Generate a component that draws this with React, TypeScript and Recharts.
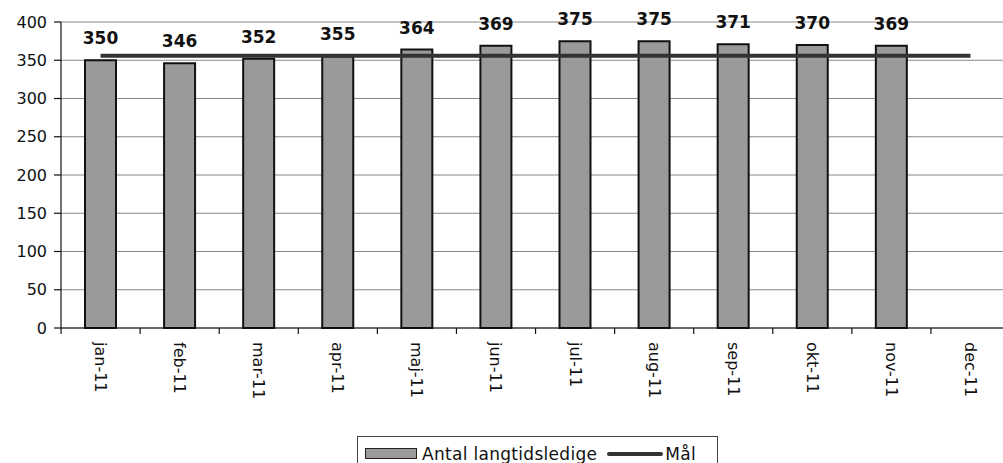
import React from "react"
import { CartesianGrid, ComposedChart, Bar, Line, XAxis, YAxis, LabelList, Legend } from "recharts"

const months = ["jan-11", "feb-11", "mar-11", "apr-11", "maj-11", "jun-11", "jul-11", "aug-11", "sep-11", "okt-11", "nov-11", "dec-11"]
const langtidsledige = [350, 346, 352, 355, 364, 369, 375, 375, 371, 370, 369, null]
const maal = [356, 356, 356, 356, 356, 356, 356, 356, 356, 356, 356, 356]
const yTicks = [0, 50, 100, 150, 200, 250, 300, 350, 400]

const data = months.map((m, i) => ({ name: m, antal: langtidsledige[i], maal: maal[i] }))

const font = "Verdana, 'DejaVu Sans', sans-serif"

const MonthTick = (props: any) => {
  const { x, y, payload } = props
  return (
    <g>
      <line x1={x - 39.5} y1={y - 8} x2={x - 39.5} y2={y - 2} stroke="#111" strokeWidth={1.2} />
      <text
        transform={`translate(${x},${y + 6}) rotate(90)`}
        textAnchor="start"
        dominantBaseline="central"
        fontSize={16}
        fontFamily={font}
        fill="#111"
      >
        {payload.value}
      </text>
    </g>
  )
}

const LegendBox = () => (
  <div
    style={{
      boxSizing: "border-box",
      width: 361,
      height: 40,
      border: "1.5px solid #444",
      display: "flex",
      alignItems: "flex-start",
      padding: "7px 6px 0 7px",
      fontFamily: font,
      fontSize: 17,
      lineHeight: "20px",
      letterSpacing: 0.3,
      color: "#111",
      background: "#fff",
      whiteSpace: "nowrap",
    }}
  >
    <span style={{ display: "inline-block", width: 50, height: 9, marginTop: 4, background: "#9a9a9a", border: "1.5px solid #222", marginRight: 5 }} />
    <span>Antal langtidsledige</span>
    <span style={{ display: "inline-block", width: 56, height: 4, marginTop: 8, background: "#333", borderRadius: 2, margin: "8px 2px 0 10px" }} />
    <span>Mål</span>
  </div>
)

export default function App() {
  return (
    <div style={{ position: "absolute", top: 0, left: 0, width: 1003, height: 463, overflow: "hidden", background: "#fff" }}>
      <ComposedChart
        width={1019}
        height={463}
        data={data}
        margin={{ top: 22, right: 9, left: 0, bottom: 0 }}
      >
        <CartesianGrid vertical={false} stroke="#888" strokeWidth={1} />
        <XAxis
          dataKey="name"
          height={135}
          interval={0}
          tickLine={false}
          axisLine={{ stroke: "#111", strokeWidth: 1.2 }}
          tick={<MonthTick />}
        />
        <YAxis
          domain={[0, 400]}
          ticks={yTicks}
          width={61}
          tickSize={7}
          tickMargin={7}
          axisLine={{ stroke: "#111", strokeWidth: 1.2 }}
          tickLine={{ stroke: "#111", strokeWidth: 1.2 }}
          tick={{ fontSize: 16, fontFamily: font, fill: "#111" }}
        />
        <Legend
          layout="horizontal"
          verticalAlign="middle"
          content={() => <LegendBox />}
          wrapperStyle={{ left: 357, top: 436, width: 361 }}
        />
        <Bar dataKey="antal" name="Antal langtidsledige" barSize={31} fill="#9a9a9a" stroke="#111" strokeWidth={2} isAnimationActive={false}>
          <LabelList dataKey="antal" position="top" offset={16} fontSize={17} fontWeight="bold" fontFamily={font} fill="#111" />
        </Bar>
        <Line dataKey="maal" name="Mål" type="linear" stroke="#333" strokeWidth={4} dot={false} isAnimationActive={false} />
      </ComposedChart>
    </div>
  )
}
